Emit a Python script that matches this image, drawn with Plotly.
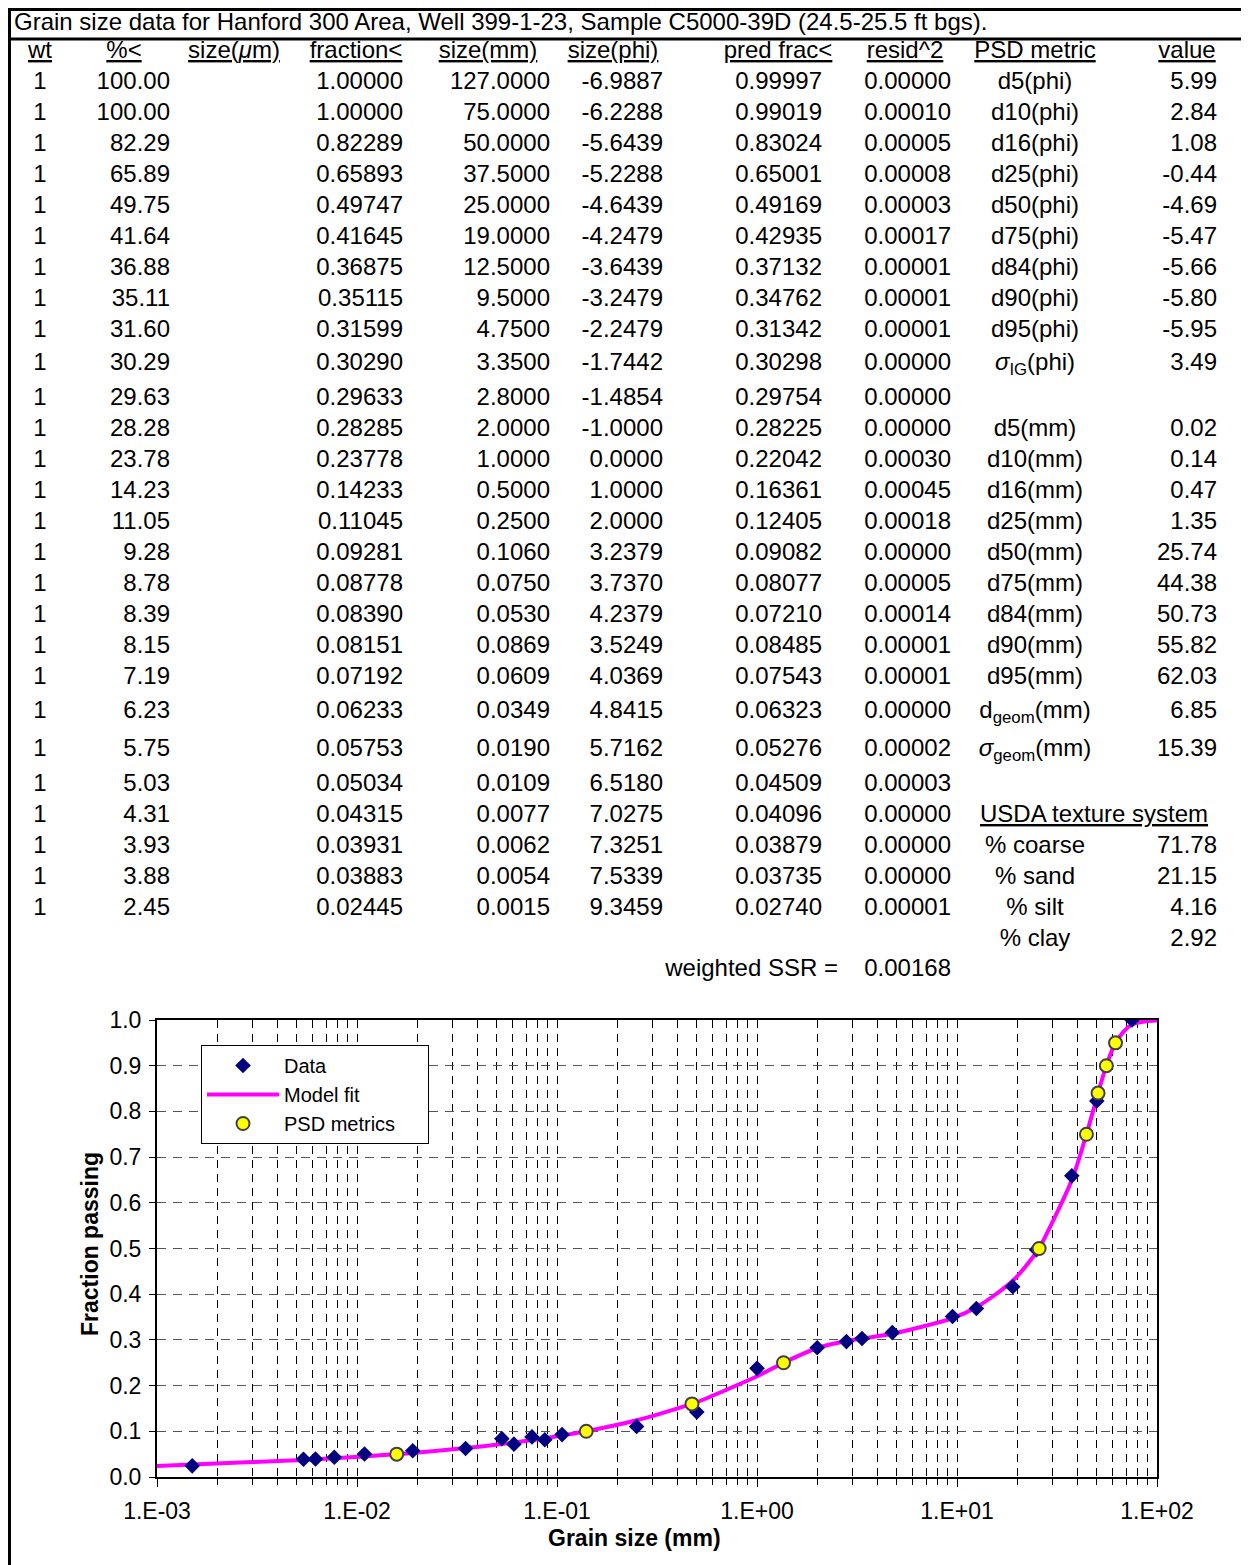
import plotly.graph_objects as go

W, H = 1249, 1565
OFF = 8   # the page body adds an 8px margin, so the figure starts 8px in
FW, FH = W - OFF, H - OFF
FONT = "Liberation Sans, Arial, sans-serif"

# ---- table data ----
title_text = "Grain size data for Hanford 300 Area, Well 399-1-23, Sample C5000-39D (24.5-25.5 ft bgs)."
headers = ["wt", "%&lt;", "size(<i>μ</i>m)", "fraction&lt;", "size(mm)", "size(phi)",
           "pred frac&lt;", "resid^2", "PSD metric", "value"]

wt = [1, 1, 1, 1, 1, 1, 1, 1, 1, 1, 1, 1, 1, 1, 1, 1, 1, 1, 1, 1, 1, 1, 1, 1, 1, 1, 1]
pct_less = [100.00, 100.00, 82.29, 65.89, 49.75, 41.64, 36.88, 35.11, 31.60, 30.29, 29.63,
            28.28, 23.78, 14.23, 11.05, 9.28, 8.78, 8.39, 8.15, 7.19, 6.23, 5.75, 5.03,
            4.31, 3.93, 3.88, 2.45]
frac_less = [1.00000, 1.00000, 0.82289, 0.65893, 0.49747, 0.41645, 0.36875, 0.35115, 0.31599,
             0.30290, 0.29633, 0.28285, 0.23778, 0.14233, 0.11045, 0.09281, 0.08778, 0.08390,
             0.08151, 0.07192, 0.06233, 0.05753, 0.05034, 0.04315, 0.03931, 0.03883, 0.02445]
size_mm = [127.0, 75.0, 50.0, 37.5, 25.0, 19.0, 12.5, 9.5, 4.75, 3.35, 2.8, 2.0, 1.0, 0.5,
           0.25, 0.106, 0.075, 0.053, 0.0869, 0.0609, 0.0349, 0.0190, 0.0109, 0.0077,
           0.0062, 0.0054, 0.0015]
size_phi = [-6.9887, -6.2288, -5.6439, -5.2288, -4.6439, -4.2479, -3.6439, -3.2479, -2.2479,
            -1.7442, -1.4854, -1.0000, 0.0000, 1.0000, 2.0000, 3.2379, 3.7370, 4.2379,
            3.5249, 4.0369, 4.8415, 5.7162, 6.5180, 7.0275, 7.3251, 7.5339, 9.3459]
pred_frac = [0.99997, 0.99019, 0.83024, 0.65001, 0.49169, 0.42935, 0.37132, 0.34762, 0.31342,
             0.30298, 0.29754, 0.28225, 0.22042, 0.16361, 0.12405, 0.09082, 0.08077, 0.07210,
             0.08485, 0.07543, 0.06323, 0.05276, 0.04509, 0.04096, 0.03879, 0.03735, 0.02740]
resid2 = [0.00000, 0.00010, 0.00005, 0.00008, 0.00003, 0.00017, 0.00001, 0.00001, 0.00001,
          0.00000, 0.00000, 0.00000, 0.00030, 0.00045, 0.00018, 0.00000, 0.00005, 0.00014,
          0.00001, 0.00001, 0.00000, 0.00002, 0.00003, 0.00000, 0.00000, 0.00000, 0.00001]

metric_names = ["d5(phi)", "d10(phi)", "d16(phi)", "d25(phi)", "d50(phi)", "d75(phi)",
                "d84(phi)", "d90(phi)", "d95(phi)", "<i>σ</i><sub>IG</sub>(phi)",
                "d5(mm)", "d10(mm)", "d16(mm)", "d25(mm)", "d50(mm)", "d75(mm)",
                "d84(mm)", "d90(mm)", "d95(mm)", "d<sub>geom</sub>(mm)",
                "<i>σ</i><sub>geom</sub>(mm)",
                "% coarse", "% sand", "% silt", "% clay"]
metric_values = [5.99, 2.84, 1.08, -0.44, -4.69, -5.47, -5.66, -5.80, -5.95, 3.49,
                 0.02, 0.14, 0.47, 1.35, 25.74, 44.38, 50.73, 55.82, 62.03, 6.85, 15.39,
                 71.78, 21.15, 4.16, 2.92]
usda_header = "USDA texture system"
ssr_label = "weighted SSR ="
ssr_value = 0.00168

# ---- chart data ----
psd_frac = [0.05, 0.10, 0.16, 0.25, 0.50, 0.75, 0.84, 0.90, 0.95]
psd_mm = [0.0158, 0.140, 0.473, 1.357, 25.74, 44.38, 50.73, 55.82, 62.03]
fit_start = (0.001, 0.0243)   # where the fitted curve meets the left axis

# ---- layout helpers (pixel positions of rows / columns) ----
header_y = 50
row_gaps = [0, 31, 31, 31, 31, 31, 31, 31, 31, 33, 35, 31, 31, 31, 31, 31, 31, 31, 31, 31,
            34, 38, 35, 31, 31, 31, 31, 31, 30]
row_y = []
y = 81
for g in row_gaps:
    y += g
    row_y.append(y + 2)
metric_rows = list(range(0, 10)) + list(range(11, 22)) + list(range(24, 28))
header_x = [40, 124, 234, 356, 488, 613, 778, 905, 1035, 1187]


def px(x):
    return (x - OFF) / FW


def py(y):
    return 1 - (y - OFF) / FH


fig = go.Figure()

# fitted curve through the predicted fractions and the PSD metric points
fit_pts = sorted(list(zip(size_mm, pred_frac)) + list(zip(psd_mm, psd_frac)) + [fit_start])
fig.add_trace(go.Scatter(
    x=[p[0] for p in fit_pts], y=[p[1] for p in fit_pts],
    mode='lines', line=dict(color='#FF00FF', width=4, shape='spline', smoothing=0.8),
    name='Model fit', legendrank=2, hoverinfo='skip'))
fig.add_trace(go.Scatter(
    x=size_mm, y=frac_less, mode='markers', name='Data', legendrank=1,
    marker=dict(symbol='diamond', size=12, color='#000080')))
fig.add_trace(go.Scatter(
    x=psd_mm, y=psd_frac, mode='markers', name='PSD metrics\u00a0\u00a0\u00a0\u00a0\u00a0',
    legendrank=3,
    marker=dict(symbol='circle', size=13, color='#FFFF00',
                line=dict(color='#404040', width=2))))


def text_col(xpos, rows, texts, pos):
    fig.add_trace(go.Scatter(
        x=[xpos] * len(texts), y=[row_y[r] for r in rows], text=texts, mode='text',
        textposition=pos, textfont=dict(family=FONT, size=24, color='black'),
        xaxis='x2', yaxis='y2', showlegend=False, hoverinfo='skip'))


# header row
fig.add_trace(go.Scatter(
    x=header_x, y=[header_y + 2] * len(headers), text=[f"<u>{h}</u>" for h in headers],
    mode='text', textposition='middle center',
    textfont=dict(family=FONT, size=24, color='black'),
    xaxis='x2', yaxis='y2', showlegend=False, hoverinfo='skip'))

n = len(wt)
rows = list(range(n))
text_col(40, rows, [str(v) for v in wt], 'middle center')
text_col(170, rows, [f"{v:.2f}" for v in pct_less], 'middle left')
text_col(403, rows, [f"{v:.5f}" for v in frac_less], 'middle left')
text_col(550, rows, [f"{v:.4f}" for v in size_mm], 'middle left')
text_col(663, rows, [f"{v:.4f}" for v in size_phi], 'middle left')
text_col(822, rows, [f"{v:.5f}" for v in pred_frac], 'middle left')
text_col(951, rows, [f"{v:.5f}" for v in resid2], 'middle left')
text_col(1035, metric_rows, metric_names, 'middle center')
text_col(1217, metric_rows, [f"{v:.2f}" for v in metric_values], 'middle left')
text_col(980, [23], [f"<u>{usda_header}</u>"], 'middle right')
text_col(838, [28], [ssr_label], 'middle left')
text_col(951, [28], [f"{ssr_value:.5f}"], 'middle left')
fig.add_trace(go.Scatter(
    x=[14], y=[24], text=[title_text], mode='text', textposition='middle right',
    textfont=dict(family=FONT, size=24, color='black'), cliponaxis=False,
    xaxis='x2', yaxis='y2', showlegend=False, hoverinfo='skip'))

tick_font = dict(family=FONT, size=23, color='black')
fig.update_layout(
    width=FW, height=FH,
    margin=dict(l=0, r=0, t=0, b=0, pad=0, autoexpand=False),
    paper_bgcolor='white', plot_bgcolor='rgba(0,0,0,0)',
    font=dict(family=FONT, color='black'),
    xaxis=dict(
        type='log', range=[-3, 2], domain=[px(157), px(1157)], anchor='y',
        tickvals=[0.001, 0.01, 0.1, 1, 10, 100],
        ticktext=["1.E-03", "1.E-02", "1.E-01", "1.E+00", "1.E+01", "1.E+02"],
        ticks='outside', ticklen=8, tickcolor='black', tickfont=tick_font,
        ticklabelstandoff=4, automargin=False,
        showgrid=True, gridcolor='black', gridwidth=1, griddash='8px,6px',
        minor=dict(dtick='D1', ticks='outside', ticklen=6, tickcolor='black',
                   showgrid=True, gridcolor='black', gridwidth=1, griddash='8px,6px'),
        showline=True, linecolor='black', linewidth=2, mirror=True, zeroline=False),
    yaxis=dict(
        range=[0, 1], domain=[py(1477), py(1020)], anchor='x',
        dtick=0.1, tickformat='.1f', ticks='outside', ticklen=6, tickcolor='black',
        tickfont=tick_font, ticklabelstandoff=3, automargin=False,
        showgrid=True, gridcolor='#555555', gridwidth=1, griddash='9px,7px',
        showline=True, linecolor='black', linewidth=2, mirror=True, zeroline=False),
    xaxis2=dict(range=[OFF, W], domain=[0, 1], anchor='y2', visible=False,
                fixedrange=True, automargin=False),
    yaxis2=dict(range=[H, OFF], domain=[0, 1], anchor='x2', visible=False,
                fixedrange=True, automargin=False),
    legend=dict(x=px(201), y=py(1045), xanchor='left', yanchor='top',
                bgcolor='white', bordercolor='black', borderwidth=1, itemwidth=72,
                font=dict(family=FONT, size=20, color='black'), tracegroupgap=0),
    showlegend=True,
)

# sheet borders (top edge sits at the first drawable row of the page)
for x0, y0, x1, y1 in [(8, 9.5, W, 9.5), (8, 39, W, 39), (9.5, 8, 9.5, H)]:
    fig.add_shape(type='line', x0=x0, y0=y0, x1=x1, y1=y1, xref='x2', yref='y2',
                  line=dict(color='black', width=3))

fig.add_annotation(x=90, y=1244, xref='x2', yref='y2', text="<b>Fraction passing</b>",
                   textangle=-90, showarrow=False, font=dict(family=FONT, size=23))
fig.add_annotation(x=634, y=1538, xref='x2', yref='y2', text="<b>Grain size (mm)</b>",
                   showarrow=False, font=dict(family=FONT, size=23))

fig.write_html("out.html")
